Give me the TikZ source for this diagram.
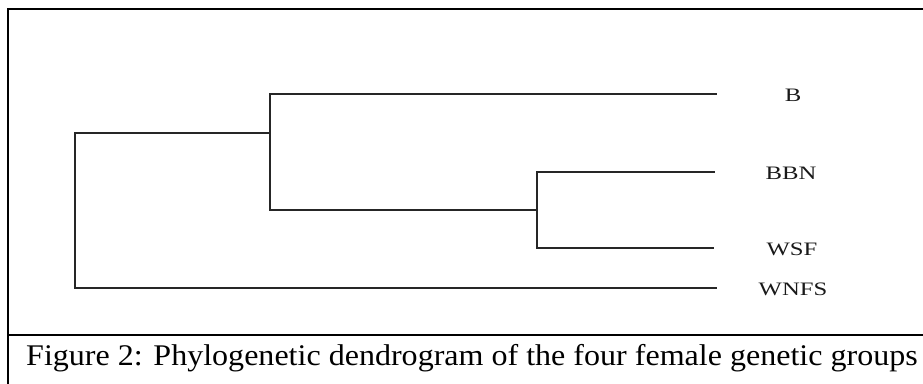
\documentclass[tikz,border=0pt]{standalone}
\usepackage{fontspec}
\setmainfont{Liberation Serif}
\begin{document}
\begin{tikzpicture}[x=1pt,y=1pt,
  frame/.style={line width=2pt,black},
  branch/.style={line width=1.4pt,black!85,line cap=rect},
  leaf/.style={font=\fontsize{19}{21}\selectfont,text=black!90,inner sep=0pt,anchor=center},
  capt/.style={font=\fontsize{30}{34}\selectfont,inner sep=0pt,anchor=base west}]
\useasboundingbox (0,0) rectangle (923,383);
\clip (0,0) rectangle (923,383);
% frame
\coordinate (fbl) at (7.5,-2);
\coordinate (ftl) at (7.5,373.5);
\coordinate (ftr) at (930,373.5);
\coordinate (sl) at (7.5,48);
\coordinate (sr) at (930,48);
\draw[frame] (fbl) -- (ftl) -- (ftr);
\draw[frame] (sl) -- (sr);
% internal nodes
\coordinate (rootT) at (75,250);
\coordinate (rootB) at (75,95);
\coordinate (n1T) at (270,289);
\coordinate (n1M) at (270,250);
\coordinate (n1B) at (270,173);
\coordinate (n2T) at (537,211);
\coordinate (n2M) at (537,173);
\coordinate (n2B) at (537,135);
% leaf ends
\coordinate (eB) at (716,289);
\coordinate (eBBN) at (714,211);
\coordinate (eWSF) at (713,135);
\coordinate (eWNFS) at (716,95);
% labels
\node[leaf] (lB) at (793,288) {\scalebox{1.3}[1]{B}};
\node[leaf] (lBBN) at (791,210) {\scalebox{1.3}[1]{BBN}};
\node[leaf] (lWSF) at (792,134) {\scalebox{1.3}[1]{WSF}};
\node[leaf] (lWNFS) at (793,94) {\scalebox{1.3}[1]{WNFS}};
% branches
\draw[branch] (eWNFS) -- (rootB) -- (rootT) -- (n1M);
\draw[branch] (eB) -- (n1T) -- (n1B) -- (n2M);
\draw[branch] (eBBN) -- (n2T) -- (n2B) -- (eWSF);
% caption
\node[capt] (cap) at (26,18) {\scalebox{1.068}[1]{Figure 2: Phylogenetic dendrogram of the four female genetic groups}};
\end{tikzpicture}
\end{document}
